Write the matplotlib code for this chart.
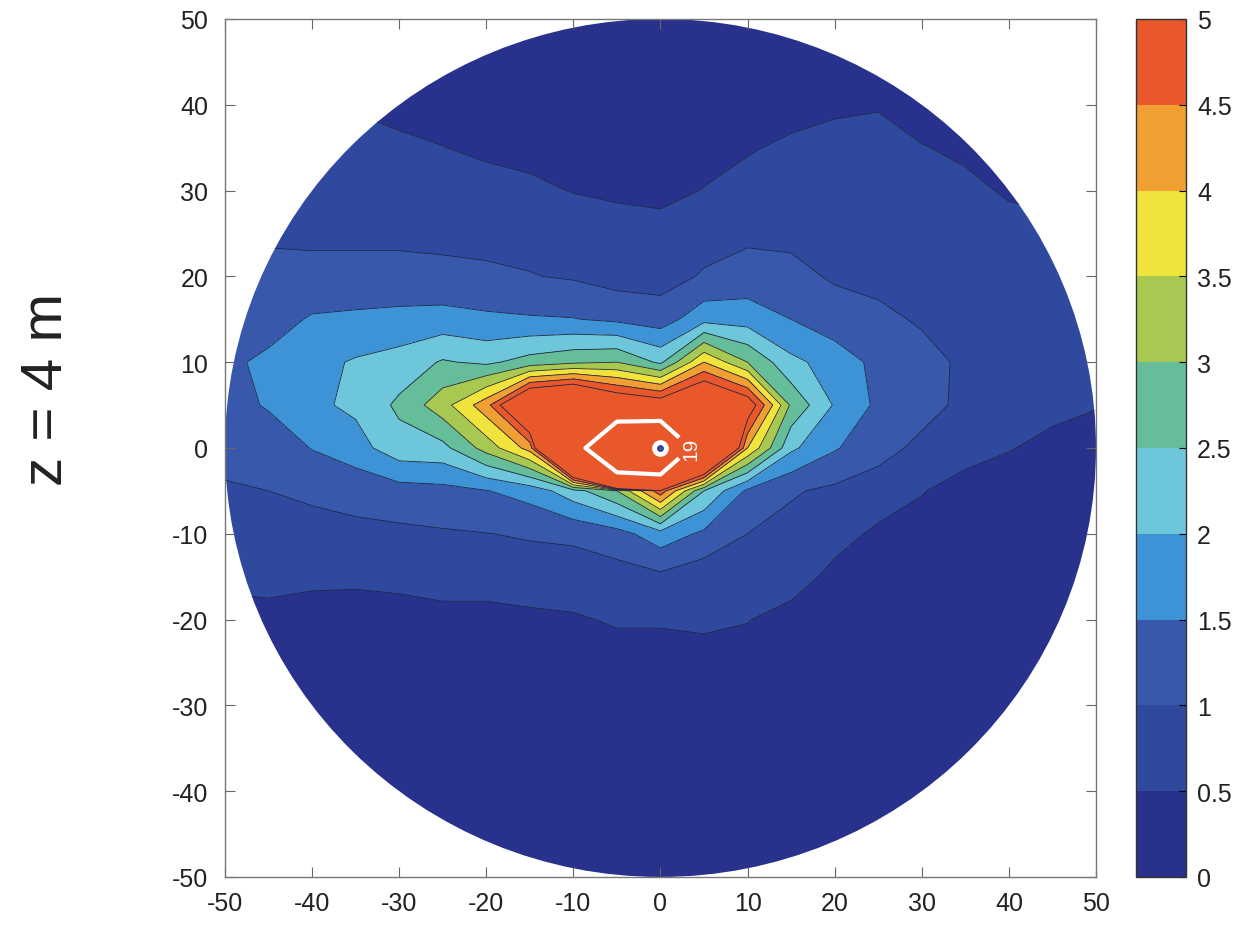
import numpy as np
import matplotlib
matplotlib.use("Agg")
import matplotlib.pyplot as plt
from matplotlib.colors import ListedColormap, BoundaryNorm
from matplotlib.cm import ScalarMappable
from matplotlib.patches import Circle

plt.rcParams["font.family"] = ["Liberation Sans", "DejaVu Sans"]
plt.rcParams["axes.unicode_minus"] = False

# ── Data: concentration on a 5 m grid ──────────────────────────────────────
X_NODES = [-50, -45, -40, -35, -30, -25, -20, -15, -10, -5, 0,
           5, 10, 15, 20, 25, 30, 35, 40, 45, 50]
Y_NODES = [50, 45, 40, 35, 30, 25, 20, 15, 10, 5, 0,
           -5, -10, -15, -20, -25, -30, -35, -40, -45, -50]
C_GRID = [
    [0.60, 0.55, 0.50, 0.30, 0.20, 0.20, 0.20, 0.20, 0.20, 0.20, 0.20, 0.20, 0.20, 0.25, 0.30, 0.32, 0.25, 0.25, 0.30, 0.35, 0.35],
    [0.65, 0.60, 0.50, 0.35, 0.25, 0.20, 0.20, 0.20, 0.20, 0.20, 0.20, 0.20, 0.22, 0.25, 0.30, 0.32, 0.25, 0.25, 0.30, 0.35, 0.35],
    [0.75, 0.60, 0.55, 0.45, 0.35, 0.30, 0.25, 0.22, 0.20, 0.20, 0.20, 0.22, 0.25, 0.30, 0.40, 0.45, 0.30, 0.30, 0.30, 0.35, 0.40],
    [0.85, 0.80, 0.70, 0.70, 0.60, 0.51, 0.40, 0.35, 0.30, 0.30, 0.28, 0.30, 0.45, 0.60, 0.70, 0.75, 0.52, 0.42, 0.35, 0.40, 0.42],
    [0.90, 0.90, 0.85, 0.80, 0.75, 0.75, 0.70, 0.60, 0.48, 0.40, 0.35, 0.52, 0.70, 0.80, 0.85, 0.80, 0.70, 0.60, 0.45, 0.45, 0.45],
    [0.95, 0.95, 0.90, 0.90, 0.90, 0.90, 0.88, 0.85, 0.80, 0.75, 0.70, 0.80, 0.90, 0.90, 0.88, 0.85, 0.80, 0.75, 0.65, 0.55, 0.50],
    [1.10, 1.10, 1.15, 1.15, 1.15, 1.10, 1.07, 1.02, 0.95, 0.80, 0.80, 1.05, 1.20, 1.12, 0.95, 0.88, 0.80, 0.75, 0.70, 0.65, 0.60],
    [1.20, 1.30, 1.55, 1.60, 1.65, 1.70, 1.60, 1.55, 1.52, 1.40, 1.25, 1.83, 1.78, 1.50, 1.20, 1.10, 0.95, 0.85, 0.75, 0.70, 0.60],
    [1.40, 1.60, 1.85, 2.05, 2.20, 2.55, 2.40, 2.70, 2.90, 3.00, 2.40, 4.00, 3.00, 2.12, 1.80, 1.35, 1.15, 0.92, 0.80, 0.70, 0.60],
    [1.30, 1.55, 1.90, 2.10, 2.60, 3.30, 4.30, 6.50, 7.00, 5.80, 5.50, 6.30, 5.50, 2.90, 1.95, 1.40, 1.15, 0.90, 0.75, 0.60, 0.52],
    [1.15, 1.20, 1.52, 1.80, 2.30, 2.35, 3.20, 4.20, 11.0, 40.0, 42.0, 9.00, 4.00, 2.10, 1.55, 1.15, 0.90, 0.65, 0.52, 0.40, 0.35],
    [0.95, 1.00, 1.08, 1.15, 1.30, 1.35, 1.48, 1.70, 2.30, 3.00, 4.80, 2.50, 1.40, 1.05, 0.90, 0.80, 0.52, 0.35, 0.30, 0.30, 0.30],
    [0.80, 0.85, 0.85, 0.90, 0.90, 0.95, 0.99, 1.05, 1.10, 1.30, 1.80, 1.40, 1.00, 0.85, 0.70, 0.40, 0.35, 0.30, 0.25, 0.25, 0.25],
    [0.60, 0.60, 0.55, 0.55, 0.60, 0.70, 0.70, 0.75, 0.75, 0.80, 0.90, 0.70, 0.80, 0.75, 0.35, 0.30, 0.28, 0.25, 0.22, 0.22, 0.22],
    [0.35, 0.40, 0.40, 0.38, 0.35, 0.35, 0.35, 0.40, 0.45, 0.55, 0.55, 0.60, 0.52, 0.30, 0.30, 0.25, 0.25, 0.22, 0.20, 0.20, 0.20],
    [0.30, 0.30, 0.30, 0.30, 0.30, 0.30, 0.30, 0.30, 0.30, 0.30, 0.30, 0.30, 0.30, 0.25, 0.25, 0.22, 0.22, 0.20, 0.20, 0.20, 0.20],
    [0.25, 0.25, 0.25, 0.25, 0.25, 0.25, 0.25, 0.25, 0.25, 0.25, 0.25, 0.25, 0.25, 0.22, 0.22, 0.20, 0.20, 0.20, 0.20, 0.20, 0.20],
    [0.20, 0.20, 0.20, 0.22, 0.22, 0.22, 0.22, 0.22, 0.22, 0.22, 0.22, 0.22, 0.22, 0.20, 0.20, 0.20, 0.20, 0.20, 0.20, 0.20, 0.20],
    [0.20, 0.20, 0.20, 0.20, 0.20, 0.20, 0.20, 0.20, 0.20, 0.20, 0.20, 0.20, 0.20, 0.20, 0.20, 0.20, 0.20, 0.20, 0.20, 0.20, 0.20],
    [0.20, 0.20, 0.20, 0.20, 0.20, 0.20, 0.20, 0.20, 0.20, 0.20, 0.20, 0.20, 0.20, 0.20, 0.20, 0.20, 0.20, 0.20, 0.20, 0.20, 0.20],
    [0.20, 0.20, 0.20, 0.20, 0.20, 0.20, 0.20, 0.20, 0.20, 0.20, 0.20, 0.20, 0.20, 0.20, 0.20, 0.20, 0.20, 0.20, 0.20, 0.20, 0.20],
]

LEVELS = [0, 0.5, 1, 1.5, 2, 2.5, 3, 3.5, 4, 4.5, 5]
LEVEL_LABELS = ["0", "0.5", "1", "1.5", "2", "2.5", "3", "3.5", "4", "4.5", "5"]
BAND_COLORS = ["#28318B", "#2F499E", "#3858AC", "#3E93D6", "#6EC6DA",
               "#65BD99", "#A7C952", "#F0E43C", "#F0A033", "#E8582A"]
HIGH_LEVEL = [19]
LABEL_POS = [(4.5, -0.5)]
SOURCE_XY = (0, 0)
RADIUS = 50
TICKS = [-50, -40, -30, -20, -10, 0, 10, 20, 30, 40, 50]
YLABEL = "z = 4 m"

X, Y = np.meshgrid(X_NODES, Y_NODES)
Z = np.array(C_GRID)

fig = plt.figure(figsize=(12.47, 9.37), dpi=100)
ax = fig.add_axes([0.1804, 0.063, 0.6985, 0.9157])
cax = fig.add_axes([0.911, 0.063, 0.040, 0.9157])

cmap = ListedColormap(BAND_COLORS)
cmap.set_over(BAND_COLORS[-1])

cs = ax.contourf(X, Y, Z, levels=LEVELS, cmap=cmap, extend="max")
lines = ax.contour(X, Y, Z, levels=LEVELS[1:], colors="#1c2545", linewidths=0.6)
hi = ax.contour(X, Y, Z, levels=HIGH_LEVEL, colors="white", linewidths=3)

disk = Circle((0, 0), RADIUS, transform=ax.transData)
for art in (cs, lines, hi):
    art.set_clip_path(disk)

ax.clabel(hi, fmt="%d", fontsize=15, colors="white", inline=True,
          inline_spacing=4, manual=LABEL_POS)

ax.plot(*SOURCE_XY, "o", ms=11, mfc="white", mec="white", zorder=6)
ax.plot(*SOURCE_XY, "o", ms=4, mfc="#3a4fb0", mec="#1c2a80", mew=0.8, zorder=7)

ax.set_xlim(-50, 50)
ax.set_ylim(-50, 50)
ax.set_xticks(TICKS)
ax.set_yticks(TICKS)
ax.tick_params(direction="in", top=True, right=True, length=7, width=0.8,
               color="#666666", labelsize=18, labelcolor="#222222")
ax.tick_params(axis="x", pad=10)
ax.tick_params(axis="y", pad=12)
for sp in ax.spines.values():
    sp.set_edgecolor("#777777")
    sp.set_linewidth(1.0)

sm = ScalarMappable(norm=BoundaryNorm(LEVELS, len(BAND_COLORS)), cmap=ListedColormap(BAND_COLORS))
cb = fig.colorbar(sm, cax=cax, ticks=LEVELS)
cb.ax.set_yticklabels(LEVEL_LABELS)
cb.ax.tick_params(direction="in", length=5, width=0.8, labelsize=18,
                  labelcolor="#222222", pad=8)
cb.outline.set_edgecolor("#333333")
cb.outline.set_linewidth(1.0)

fig.text(0.038, 0.584, YLABEL, rotation=90, fontsize=42,
         ha="center", va="center", color="#222222")

fig.savefig("out.png", dpi=100)
